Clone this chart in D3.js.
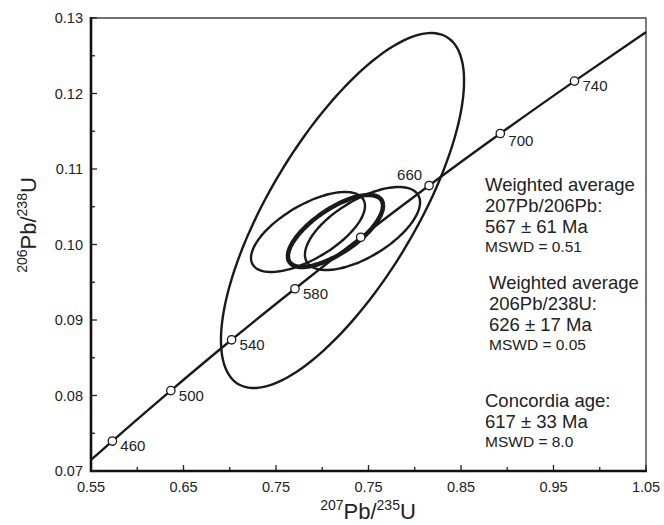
<!DOCTYPE html>
<html>
<head>
<meta charset="utf-8">
<script src="https://cdn.jsdelivr.net/npm/d3@7"></script>
<style>
  body { margin: 0; background: #fff; }
  svg { display: block; font-family: "Liberation Sans", Arial, sans-serif; }
</style>
</head>
<body>
<svg id="chart" width="664" height="525"></svg>
<script>
// tick positions (true values) and the labels printed on the original
var xTickValues = [0.55, 0.65, 0.75, 0.85, 0.95, 1.05, 1.15];
var xTickLabels = ["0.55", "0.65", "0.75", "0.75", "0.85", "0.95", "1.05"];
var yTickValues = [0.07, 0.08, 0.09, 0.10, 0.11, 0.12, 0.13];
var yTickLabels = ["0.07", "0.08", "0.09", "0.10", "0.11", "0.12", "0.13"];

// concordia points (Ma)
var concAges = [460, 500, 540, 580, 620, 660, 700, 740];
var concX = [0.5731, 0.6363, 0.7020, 0.7705, 0.8416, 0.9155, 0.9925, 1.0727];
var concY = [0.07397, 0.08065, 0.08738, 0.09414, 0.10096, 0.10781, 0.11470, 0.12164];
var concLabelled = [true, true, true, true, false, true, true, true];
// where the curve meets the frame
var concStart = [0.55, 0.07147];
var concEnd = [1.15, 0.12814];

// error ellipses: centre, half-widths, correlation
var ellCx = [0.8219, 0.7846, 0.8435, 0.8143];
var ellCy = [0.1045, 0.10166, 0.10212, 0.10179];
var ellSx = [0.1314, 0.0616, 0.0622, 0.0514];
var ellSy = [0.02351, 0.0053, 0.0055, 0.00477];
var ellRho = [0.73, 0.65, 0.63, 0.70];

var notes = [
  ["Weighted average", "207Pb/206Pb:", "567 \u00b1 61 Ma", "MSWD = 0.51"],
  ["Weighted average", "206Pb/238U:", "626 \u00b1 17 Ma", "MSWD = 0.05"],
  ["Concordia age:", "617 \u00b1 33 Ma", "MSWD = 8.0"]
];

var margin = { top: 18, right: 18, bottom: 54, left: 91 };
var width = 664, height = 525;

var svg = d3.select("#chart");

var x = d3.scaleLinear().domain([0.55, 1.15]).range([margin.left, width - margin.right]);
var y = d3.scaleLinear().domain([0.07, 0.13]).range([height - margin.bottom, margin.top]);

// frame: thin top/right
svg.append("path")
  .attr("d", "M" + x(0.55) + "," + y(0.13) + "H" + x(1.15) + "V" + y(0.07))
  .attr("fill", "none")
  .attr("stroke", "#444")
  .attr("stroke-width", 1.4);

// x axis, inside ticks
var xMinor = d3.range(0.60, 1.15, 0.1);
var gx = svg.append("g").attr("transform", "translate(0," + y(0.07) + ")");
gx.selectAll("line.maj").data(xTickValues).enter().append("line")
  .attr("x1", function (d) { return x(d); }).attr("x2", function (d) { return x(d); })
  .attr("y1", 0).attr("y2", -6).attr("stroke", "#222").attr("stroke-width", 1.3);
gx.selectAll("line.min").data(xMinor).enter().append("line")
  .attr("x1", function (d) { return x(d); }).attr("x2", function (d) { return x(d); })
  .attr("y1", 0).attr("y2", -4).attr("stroke", "#222").attr("stroke-width", 1.3);
gx.selectAll("text").data(xTickValues).enter().append("text")
  .attr("x", function (d) { return x(d); })
  .attr("y", 21)
  .attr("text-anchor", "middle")
  .attr("font-size", 14.5)
  .attr("fill", "#222")
  .text(function (d, i) { return xTickLabels[i]; });
gx.append("line")
  .attr("x1", x(0.55) - 1).attr("x2", x(1.15) + 1)
  .attr("stroke", "#111").attr("stroke-width", 2.6);

// y axis, inside ticks
var yMinor = d3.range(0.075, 0.13, 0.01);
var gy = svg.append("g").attr("transform", "translate(" + x(0.55) + ",0)");
gy.selectAll("line.maj").data(yTickValues).enter().append("line")
  .attr("y1", function (d) { return y(d); }).attr("y2", function (d) { return y(d); })
  .attr("x1", 0).attr("x2", 6).attr("stroke", "#222").attr("stroke-width", 1.3);
gy.selectAll("line.min").data(yMinor).enter().append("line")
  .attr("y1", function (d) { return y(d); }).attr("y2", function (d) { return y(d); })
  .attr("x1", 0).attr("x2", 4).attr("stroke", "#222").attr("stroke-width", 1.3);
gy.selectAll("text").data(yTickValues).enter().append("text")
  .attr("x", -8)
  .attr("y", function (d) { return y(d); })
  .attr("dy", "0.35em")
  .attr("text-anchor", "end")
  .attr("font-size", 14.5)
  .attr("fill", "#222")
  .text(function (d, i) { return yTickLabels[i]; });
gy.append("line")
  .attr("y1", y(0.13) - 1).attr("y2", y(0.07) + 1)
  .attr("stroke", "#111").attr("stroke-width", 2.6);

// axis titles
var xt = svg.append("text")
  .attr("x", 368).attr("y", 519)
  .attr("text-anchor", "middle")
  .attr("font-size", 22)
  .attr("fill", "#222");
xt.append("tspan").attr("font-size", 14).attr("dy", -9).text("207");
xt.append("tspan").attr("dy", 9).text("Pb/");
xt.append("tspan").attr("font-size", 14).attr("dy", -9).text("235");
xt.append("tspan").attr("dy", 9).text("U");

var yt = svg.append("text")
  .attr("transform", "translate(36,225) rotate(-90)")
  .attr("text-anchor", "middle")
  .attr("font-size", 22)
  .attr("fill", "#222");
yt.append("tspan").attr("font-size", 14).attr("dy", -9).text("206");
yt.append("tspan").attr("dy", 9).text("Pb/");
yt.append("tspan").attr("font-size", 14).attr("dy", -9).text("238");
yt.append("tspan").attr("dy", 9).text("U");

var plot = svg.append("g");

// ellipses
var theta = d3.range(0, 361, 3).map(function (d) { return d * Math.PI / 180; });
var lineGen = d3.line()
  .x(function (p) { return x(p[0]); })
  .y(function (p) { return y(p[1]); })
  .curve(d3.curveCardinalClosed);

ellCx.forEach(function (cx, i) {
  var pts = theta.slice(0, -1).map(function (t) {
    var c = Math.cos(t), s = Math.sin(t);
    return [cx + ellSx[i] * c,
            ellCy[i] + ellSy[i] * (ellRho[i] * c + Math.sqrt(1 - ellRho[i] * ellRho[i]) * s)];
  });
  plot.append("path")
    .attr("d", lineGen(pts))
    .attr("fill", "none")
    .attr("stroke", "#1a1a1a")
    .attr("stroke-width", i === 3 ? 4.5 : 2.4);
});

// concordia
var concPts = [concStart].concat(concX.map(function (d, i) { return [d, concY[i]]; })).concat([concEnd]);
plot.append("path")
  .attr("d", d3.line()
    .x(function (p) { return x(p[0]); })
    .y(function (p) { return y(p[1]); })
    .curve(d3.curveMonotoneX)(concPts))
  .attr("fill", "none")
  .attr("stroke", "#1a1a1a")
  .attr("stroke-width", 2.4);

plot.selectAll("circle").data(concAges).enter().append("circle")
  .attr("cx", function (d, i) { return x(concX[i]); })
  .attr("cy", function (d, i) { return y(concY[i]); })
  .attr("r", 4.2)
  .attr("fill", "#fff")
  .attr("stroke", "#1a1a1a")
  .attr("stroke-width", 1.3);

plot.selectAll("text.age").data(concAges).enter()
  .filter(function (d, i) { return concLabelled[i]; })
  .append("text")
  .attr("class", "age")
  .attr("x", function (d) {
    var i = concAges.indexOf(d);
    return d === 660 ? x(concX[i]) - 7 : x(concX[i]) + 8;
  })
  .attr("y", function (d) {
    var i = concAges.indexOf(d);
    return d === 660 ? y(concY[i]) - 11 : y(concY[i]) + (d === 700 ? 7 : 5);
  })
  .attr("dy", "0.35em")
  .attr("text-anchor", function (d) { return d === 660 ? "end" : "start"; })
  .attr("font-size", 15)
  .attr("fill", "#222")
  .text(function (d) { return d; });

// annotation blocks
var noteX = [485, 489, 485];
var noteY = [185, 283, 401];
notes.forEach(function (lines, k) {
  lines.forEach(function (s, j) {
    var small = s.indexOf("MSWD") === 0;
    svg.append("text")
      .attr("x", noteX[k])
      .attr("y", noteY[k] + j * 20.7 - (small ? 1 : 0))
      .attr("dy", "0.35em")
      .attr("font-size", small ? 15.5 : 18.5)
      .attr("fill", "#222")
      .text(s);
  });
});
</script>
</body>
</html>
